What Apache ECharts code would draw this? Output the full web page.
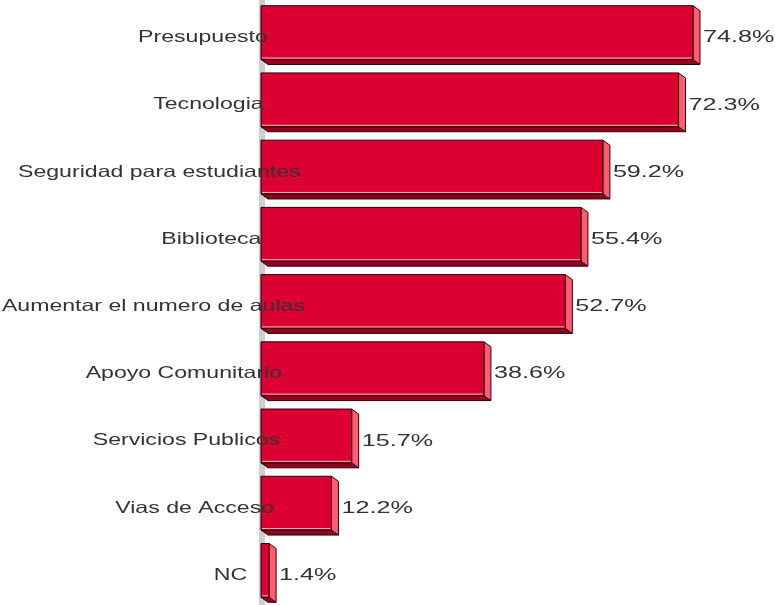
<!DOCTYPE html>
<html>
<head>
<meta charset="utf-8">
<script src="https://cdn.jsdelivr.net/npm/echarts@6/dist/echarts.min.js"></script>
<style>
  html, body { margin: 0; padding: 0; background: #fff; }
  #chart { width: 775px; height: 605px; }
</style>
</head>
<body>
<div id="chart"></div>
<script>
// datos
const categories = [
  'Presupuesto',
  'Tecnologia',
  'Seguridad para estudiantes',
  'Biblioteca',
  'Aumentar el numero de aulas',
  'Apoyo Comunitario',
  'Servicios Publicos',
  'Vias de Acceso',
  'NC'
]
const values = [74.8, 72.3, 59.2, 55.4, 52.7, 38.6, 15.7, 12.2, 1.4]

const FONT_SIZE = 16.5
const FONT = FONT_SIZE + 'px "Liberation Sans", Arial, sans-serif'
const VALUE_FONT = '17px "Liberation Sans", Arial, sans-serif'
const STRETCH = 1.54 * 15 / FONT_SIZE // el original viene estirado en horizontal
const VALUE_STRETCH = 1.48
const DX = 7 // profundidad 3D
const DY = 5

// medir texto para colocar las etiquetas como en el original
const ctx = document.createElement('canvas').getContext('2d')
function textWidth(t, font) {
  ctx.font = font
  return ctx.measureText(t).width
}

const chart = echarts.init(document.getElementById('chart'))

function renderBar(params, api) {
  const idx = api.value(1)
  const val = api.value(0)
  const start = api.coord([0, idx])
  const end = api.coord([val, idx])
  const band = api.size([0, 1])[1]
  const h = band * 0.8
  const x0 = start[0]
  const x1 = end[0]
  const top = start[1] - h / 2 - 1
  const bottom = top + h
  const name = categories[idx]
  // ancho "a 15px", el original alinea con esa medida
  const w15 = textWidth(name, FONT) * 15 / FONT_SIZE

  return {
    type: 'group',
    children: [
      // pared gris del fondo
      {
        type: 'rect',
        shape: { x: x0 - 2, y: start[1] - band / 2, width: DX - 1, height: band },
        style: { fill: '#cdcdcd' },
        z2: 0
      },
      // cara inferior
      {
        type: 'polygon',
        shape: { points: [[x0, bottom], [x1, bottom], [x1 + DX, bottom + DY], [x0 + DX, bottom + DY]] },
        style: { fill: '#96001c', stroke: '#2a0008', lineWidth: 1 },
        z2: 1
      },
      // cara lateral
      {
        type: 'polygon',
        shape: { points: [[x1, top], [x1 + DX, top + DY], [x1 + DX, bottom + DY], [x1, bottom]] },
        style: { fill: '#ff5c72', stroke: '#2a0008', lineWidth: 1 },
        z2: 1
      },
      // cara frontal
      {
        type: 'rect',
        shape: { x: x0, y: top, width: x1 - x0, height: h },
        style: { fill: '#dc0032', stroke: '#1e0006', lineWidth: 1 },
        z2: 2
      },
      {
        type: 'line',
        shape: { x1: x0 + 1, y1: bottom - 1.5, x2: x1 - 1, y2: bottom - 1.5 },
        style: { stroke: '#ffb3bf', lineWidth: 1 },
        z2: 3
      },
      // etiqueta de categoria
      {
        type: 'text',
        x: x0 - 21 - 1.21 * w15,
        y: start[1] + 4,
        scaleX: STRETCH,
        style: {
          text: name,
          font: FONT,
          fill: '#333333',
          align: 'left',
          verticalAlign: 'middle'
        },
        z2: 5
      },
      // valor
      {
        type: 'text',
        x: x1 + DX + 3,
        y: start[1] + 4,
        scaleX: VALUE_STRETCH,
        style: {
          text: val.toFixed(1) + '%',
          font: VALUE_FONT,
          fill: '#333333',
          align: 'left',
          verticalAlign: 'middle'
        },
        z2: 5
      }
    ]
  }
}

chart.setOption({
  animation: false,
  grid: { left: 261, right: 52, top: 0, bottom: 0 },
  xAxis: {
    type: 'value',
    min: 0,
    max: 80,
    show: false
  },
  yAxis: {
    type: 'category',
    data: categories,
    inverse: true,
    show: false
  },
  series: [
    {
      type: 'custom',
      clip: false,
      renderItem: renderBar,
      encode: { x: 0, y: 1 },
      data: values.map((v, i) => [v, i])
    }
  ]
})
</script>
</body>
</html>
